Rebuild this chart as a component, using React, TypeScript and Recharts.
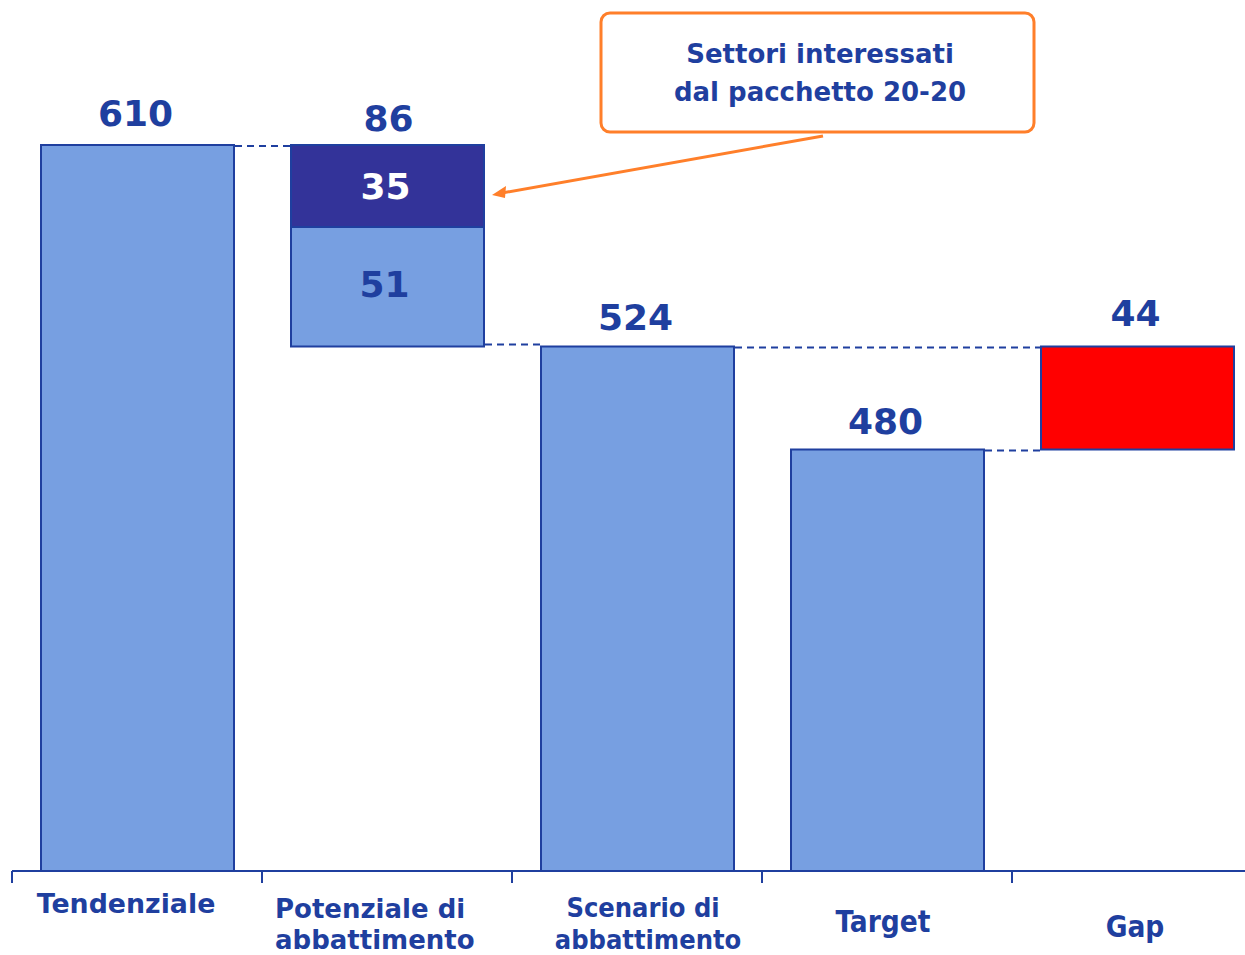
import React from 'react';
import { BarChart, Bar, XAxis, YAxis, Cell } from 'recharts';

// ---- data ----
const categories = ['Tendenziale', 'Potenziale di abbattimento', 'Scenario di abbattimento', 'Target', 'Gap'];
const tendenziale = 610;
const potenzialeAltri = 51; // light segment
const potenzialeSettori = 35; // dark segment (settori pacchetto 20-20)
const scenario = 524;
const target = 480;
const gap = 44;
const axisFloor = 300;
const topLabels = ['610', '86', '524', '480', '44'];
const labelLines = [['Tendenziale'], ['Potenziale di', 'abbattimento'], ['Scenario di', 'abbattimento'], ['Target'], ['Gap']];

const lowValues = [axisFloor, scenario, axisFloor, axisFloor, target];
const highValues = [tendenziale, scenario + potenzialeAltri, scenario, target, target + gap];
const darkRanges: (number[] | null)[] = [null, [scenario + potenzialeAltri, tendenziale], null, null, null];

const data = categories.map((c, i) => ({
  cat: c,
  main: [lowValues[i], highValues[i]],
  dark: darkRanges[i],
}));

// ---- styles ----
const BLUE = '#1F3F9F';
const LIGHT = '#779FE1';
const DARK = '#333399';
const RED = '#FF0000';
const ORANGE = '#FF7F2A';
const FONT = "'DejaVu Sans', Verdana, sans-serif";
const COND = "'DejaVu Sans Condensed', 'DejaVu Sans', sans-serif";

const CHART_W = 1262;
const CHART_H = 955;
const MARGIN = { top: 145, right: 0, bottom: 0, left: 12 };
const BAND = (CHART_W - MARGIN.left - MARGIN.right) / categories.length;

const labelStyle: { dx: number[]; baselines: number[]; font: string; size: number; anchor: string }[] = [
  { dx: [-11], baselines: [42], font: FONT, size: 26.8, anchor: 'middle' },
  { dx: [-112, -112], baselines: [47, 78], font: FONT, size: 26, anchor: 'start' },
  { dx: [6, 11], baselines: [46, 78], font: COND, size: 27, anchor: 'middle' },
  { dx: [-4], baselines: [61], font: COND, size: 29.5, anchor: 'middle' },
  { dx: [-2], baselines: [66], font: COND, size: 29.5, anchor: 'middle' },
];

const CategoryTick = (props: any) => {
  const { x, y, index } = props;
  const st = labelStyle[index] || labelStyle[0];
  const lines = labelLines[index] || [];
  return (
    <g>
      <line x1={x - BAND / 2} x2={x - BAND / 2} y1={y} y2={y + 12} stroke={BLUE} strokeWidth={2} />
      {index === categories.length - 1 && (
        <line x1={x + BAND / 2} x2={x + BAND / 2} y1={y} y2={y + 12} stroke={BLUE} strokeWidth={2} />
      )}
      {lines.map((ln, k) => (
        <text
          key={k}
          x={x + st.dx[k]}
          y={y + st.baselines[k]}
          textAnchor={st.anchor as any}
          fill={BLUE}
          fontFamily={st.font}
          fontWeight="bold"
          fontSize={st.size}
          style={{ fontStretch: st.font === COND ? 'condensed' : 'normal' }}
        >
          {ln}
        </text>
      ))}
    </g>
  );
};

const topLabelOffsets = [19, 14, 16, 15, 20];
const dash = { stroke: BLUE, strokeWidth: 2, strokeDasharray: '7 5' };

const MainLabel = (props: any) => {
  const { x, y, width, height, index } = props;
  const cx = x + width / 2;
  const els: React.ReactNode[] = [];
  const txt = (key: string, tx: number, ty: number, s: string, fill = BLUE) => (
    <text key={key} x={tx} y={ty} textAnchor="middle" fill={fill} fontFamily={FONT} fontWeight="bold" fontSize={36}>
      {s}
    </text>
  );
  if (index === 1) {
    const darkH = (height / potenzialeAltri) * potenzialeSettori;
    const topY = y - darkH;
    els.push(txt('t', cx + 1, topY - topLabelOffsets[index], topLabels[index]));
    els.push(txt('in', cx - 3, y + height / 2 + 10, String(potenzialeAltri)));
    els.push(txt('dk', cx - 2, y - darkH / 2 + 13, String(potenzialeSettori), '#FFFFFF'));
    // connector from bottom of this bar to the next bar
    els.push(<line key="c" x1={x + width + 1} x2={x + BAND} y1={y + height - 2} y2={y + height - 2} {...dash} />);
  } else {
    els.push(txt('t', cx - 2, y - topLabelOffsets[index], topLabels[index]));
    if (index === 0 || index === 3) {
      els.push(<line key="c" x1={x + width + 1} x2={x + BAND} y1={y + 1} y2={y + 1} {...dash} />);
    }
    if (index === 2) {
      els.push(<line key="c" x1={x + width + 1} x2={x + 2 * BAND} y1={y + 1} y2={y + 1} {...dash} />);
    }
  }
  return <g>{els}</g>;
};

export default function App() {
  return (
    <div style={{ position: 'absolute', left: 0, top: 0, width: 1245, height: 955, overflow: 'hidden', background: '#fff' }}>
      <BarChart width={CHART_W} height={CHART_H} data={data} margin={MARGIN}>
        <XAxis
          dataKey="cat"
          xAxisId={0}
          height={84}
          interval={0}
          tickLine={false}
          tickSize={0}
          tickMargin={0}
          axisLine={{ stroke: BLUE, strokeWidth: 2 }}
          tick={<CategoryTick />}
        />
        <XAxis dataKey="cat" xAxisId={1} hide />
        <YAxis hide domain={[axisFloor, tendenziale]} />
        <Bar dataKey="dark" xAxisId={1} barSize={193} fill={DARK} stroke={BLUE} strokeWidth={2} isAnimationActive={false} />
        <Bar dataKey="main" xAxisId={0} barSize={193} stroke={BLUE} strokeWidth={2} isAnimationActive={false} label={<MainLabel />}>
          {data.map((d, i) => (
            <Cell key={i} fill={i === categories.length - 1 ? RED : LIGHT} />
          ))}
        </Bar>
      </BarChart>
      <svg width={1245} height={955} style={{ position: 'absolute', left: 0, top: 0, pointerEvents: 'none' }}>
        <rect x={601} y={13} width={433} height={119} rx={9} ry={9} fill="#FFFFFF" stroke={ORANGE} strokeWidth={3} />
        <text x={820} y={63} textAnchor="middle" fill={BLUE} fontFamily={FONT} fontWeight="bold" fontSize={26}>Settori interessati</text>
        <text x={820} y={101} textAnchor="middle" fill={BLUE} fontFamily={FONT} fontWeight="bold" fontSize={26}>dal pacchetto 20-20</text>
        <line x1={823} y1={136} x2={502} y2={193} stroke={ORANGE} strokeWidth={3} />
        <polygon points="492,195 506,186 505,198" fill={ORANGE} />
      </svg>
    </div>
  );
}
